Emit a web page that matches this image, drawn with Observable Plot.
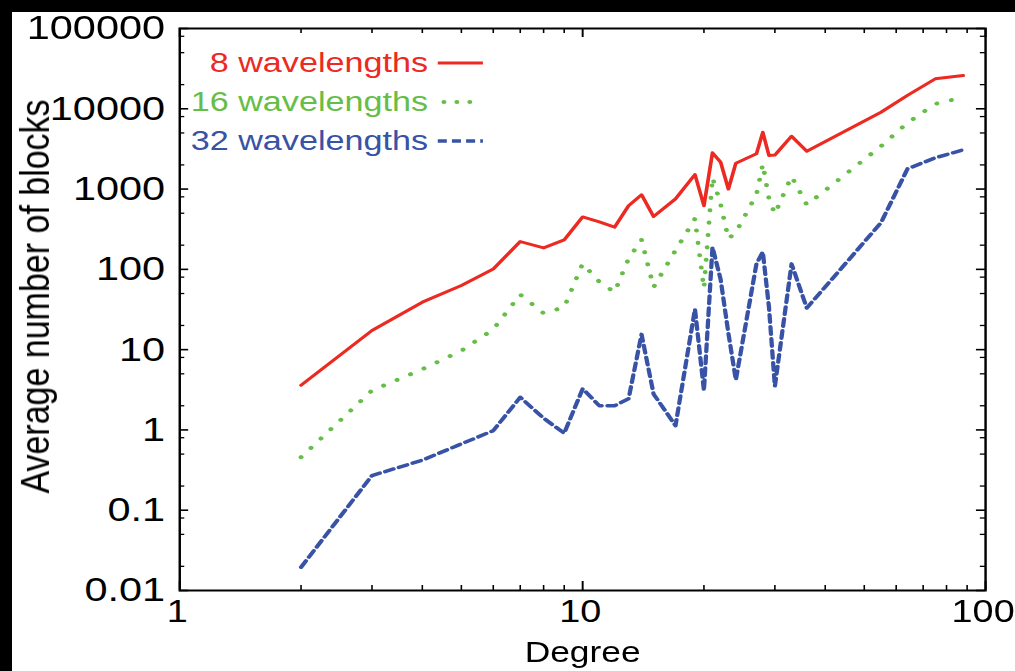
<!DOCTYPE html>
<html>
<head>
<meta charset="utf-8">
<script src="https://cdn.jsdelivr.net/npm/d3@7"></script>
<script src="https://cdn.jsdelivr.net/npm/@observablehq/plot@0.6"></script>
<style>
  html, body { margin: 0; padding: 0; }
  body { width: 1015px; height: 671px; background: #000; overflow: hidden; position: relative; }
  #wrap { position: absolute; left: 12px; top: 12px; width: 1003px; height: 659px; background: #fff; overflow: visible; }
  #chart { transform: scaleX(1.22); transform-origin: 0 0; }
</style>
</head>
<body>
<div id="wrap"><div id="chart"></div></div>
<script>
// ---- data ----
const degrees = [2, 3, 4, 5, 6, 7, 8, 9, 10, 11, 12, 13, 14, 15, 17, 19, 20, 21, 22, 23, 24, 27, 28, 29, 30, 33, 36, 55, 64, 75, 88];
const blocks8 = [3.6, 17.3, 39, 63, 101, 222, 185, 233, 450, 390, 335, 620, 850, 455, 755, 1520, 620, 2830, 2160, 1000, 2100, 2750, 5100, 2620, 2650, 4550, 2960, 9060, 14700, 23600, 25900];
const blocks16 = [0.457, 3.1, 5.7, 9.7, 17.9, 48.6, 28.4, 33.7, 118, 70, 52, 136, 233, 60, 172, 427, 58, 1400, 650, 240, 290, 850, 2050, 757, 491, 1440, 636, 3415, 6680, 11500, 13900];
const blocks32 = [0.0195, 0.27, 0.42, 0.67, 0.98, 2.55, 1.4, 0.91, 3.25, 2.0, 2.0, 2.44, 15.5, 2.8, 1.13, 32, 3.1, 189, 75, 16, 4.2, 117, 165, 34, 3.5, 117, 33, 380, 1786, 2450, 3080];

const seriesNames = ["8 wavelengths", "16 wavelengths", "32 wavelengths"];
const seriesColors = ["#ec2a22", "#66bd47", "#3852a6"];

const xTickValues = [1, 10, 100];
const xTickLabels = ["1", "10", "100"];
const yTickValues = [0.01, 0.1, 1, 10, 100, 1000, 10000, 100000];
const yTickLabels = ["0.01", "0.1", "1", "10", "100", "1000", "10000", "100000"];
const xTitle = "Degree";
const yTitle = "Average number of blocks";

// minor tick positions
const xMinorSteps = [2, 3, 4, 5, 6, 7, 8, 9];
const yMinorSteps = [2, 5, 8];
const xMinor = [];
for (const dec of [1, 10]) for (const k of xMinorSteps) xMinor.push(k * dec);
const yMinor = [];
for (const dec of [0.01, 0.1, 1, 10, 100, 1000, 10000]) for (const k of yMinorSteps) yMinor.push(+(k * dec).toPrecision(3));

// ---- layout ----
const W = 822, H = 659;
const mL = 137, mR = 24.5, mT = 16, mB = 81;
const innerW = W - mL - mR, innerH = H - mT - mB;
const majLen = 9, minLen = 5, majLenX = 7.4, minLenX = 4.2;

const rows = (vals) => degrees.map((d, i) => ({degree: d, value: vals[i]}));

function legendMark() {
  const g = d3.create("svg:g");
  const xr = mL + 204, y0 = mT + 34, gap = 39;
  const styles = [
    {dash: null, width: 3, cap: "butt"},
    {dash: "0.1 10.5", width: 4, cap: "round"},
    {dash: "7.4 4.2", width: 3.5, cap: "butt"}
  ];
  seriesNames.forEach((name, i) => {
    const y = y0 + i * gap;
    g.append("text")
      .attr("x", xr).attr("y", y)
      .attr("text-anchor", "end")
      .attr("dy", "0.35em")
      .attr("fill", seriesColors[i])
      .attr("font-size", 28)
      .text(name);
    const x1 = xr + (i === 1 ? 13 : 8);
    const x2 = xr + (i === 1 ? 38 : 45);
    const ln = g.append("line")
      .attr("x1", x1).attr("x2", x2).attr("y1", y + 1).attr("y2", y + 1)
      .attr("stroke", seriesColors[i])
      .attr("stroke-width", styles[i].width)
      .attr("stroke-linecap", styles[i].cap);
    if (styles[i].dash) ln.attr("stroke-dasharray", styles[i].dash);
  });
  return g.node();
}

const chart = Plot.plot({
  width: W,
  height: H,
  marginLeft: mL,
  marginRight: mR,
  marginTop: mT,
  marginBottom: mB,
  style: {fontFamily: "'Liberation Sans', Arial, Helvetica, sans-serif", fontSize: "34px", color: "#000", background: "#fff", overflow: "visible"},
  x: {type: "log", domain: [1, 100]},
  y: {type: "log", domain: [0.01, 100000]},
  marks: [
    // data lines
    Plot.line(rows(blocks8), {x: "degree", y: "value", stroke: seriesColors[0], strokeWidth: 3, strokeLinejoin: "round"}),
    Plot.line(rows(blocks16), {x: "degree", y: "value", stroke: seriesColors[1], strokeWidth: 4, strokeLinecap: "round", strokeDasharray: "0.1 12.3"}),
    Plot.line(rows(blocks32), {x: "degree", y: "value", stroke: seriesColors[2], strokeWidth: 3.5, strokeDasharray: "7.4 4.6", strokeLinejoin: "round"}),
    // inner ticks, all four sides
    Plot.tickX(xTickValues, {x: d => d, insetTop: innerH - majLen, stroke: "#000", strokeWidth: 1.6}),
    Plot.tickX(xTickValues, {x: d => d, insetBottom: innerH - majLen, stroke: "#000", strokeWidth: 1.6}),
    Plot.tickX(xMinor, {x: d => d, insetTop: innerH - minLen, stroke: "#000", strokeWidth: 1.3}),
    Plot.tickX(xMinor, {x: d => d, insetBottom: innerH - minLen, stroke: "#000", strokeWidth: 1.3}),
    Plot.tickY(yTickValues, {y: d => d, insetRight: innerW - majLenX, stroke: "#000", strokeWidth: 1.6}),
    Plot.tickY(yTickValues, {y: d => d, insetLeft: innerW - majLenX, stroke: "#000", strokeWidth: 1.6}),
    Plot.tickY(yMinor, {y: d => d, insetRight: innerW - minLenX, stroke: "#000", strokeWidth: 1.3}),
    Plot.tickY(yMinor, {y: d => d, insetLeft: innerW - minLenX, stroke: "#000", strokeWidth: 1.3}),
    Plot.frame({stroke: "#000", strokeWidth: 2}),
    // axes labels
    Plot.axisX({ticks: xTickValues, tickSize: 0, tickPadding: 9, dx: -2, fontSize: 31, tickFormat: d => xTickLabels[xTickValues.indexOf(d)], label: null}),
    Plot.axisY({ticks: yTickValues, tickSize: 0, tickPadding: 12, tickFormat: d => yTickLabels[yTickValues.indexOf(d)], label: null}),
    Plot.text([xTitle], {text: d => d, frameAnchor: "bottom", dy: 51, lineAnchor: "top", fontSize: 29, fill: "#000"}),
    Plot.text([yTitle], {text: d => d, frameAnchor: "left", textAnchor: "middle", rotate: -90, dx: -118, dy: -13, fontSize: 34, fill: "#000"}),
    legendMark
  ]
});

document.getElementById("chart").appendChild(chart);
</script>
</body>
</html>
